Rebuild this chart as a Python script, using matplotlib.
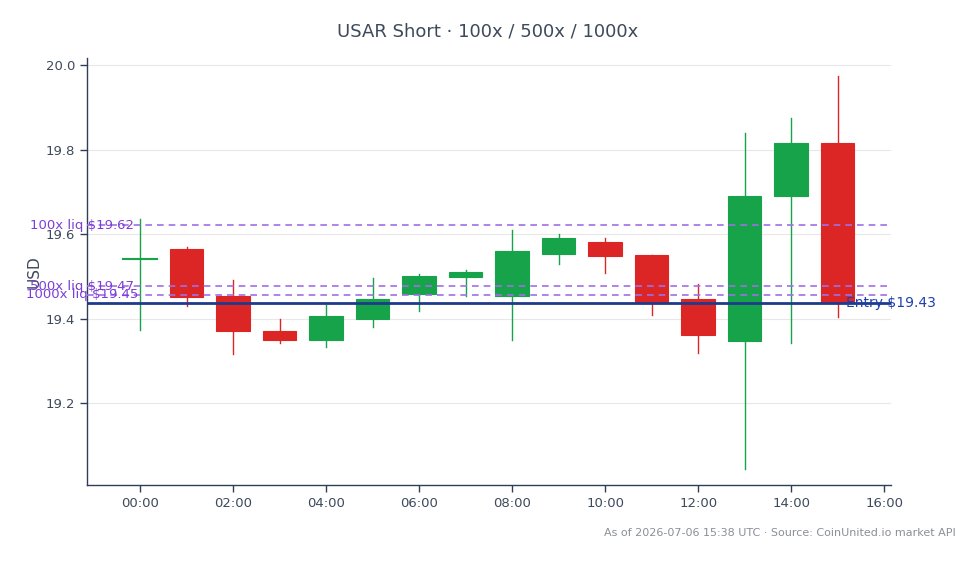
import matplotlib.pyplot as plt
from matplotlib.patches import Rectangle

# hourly candles, hours since 00:00
hours = list(range(16))
opens = [19.540, 19.564, 19.453, 19.370, 19.349, 19.399, 19.459, 19.499, 19.454, 19.554, 19.581, 19.550, 19.446, 19.346, 19.690, 19.815]
highs = [19.636, 19.569, 19.491, 19.399, 19.432, 19.496, 19.505, 19.515, 19.609, 19.600, 19.591, 19.550, 19.482, 19.839, 19.874, 19.975]
lows = [19.372, 19.430, 19.317, 19.343, 19.332, 19.381, 19.418, 19.454, 19.349, 19.530, 19.508, 19.408, 19.318, 19.044, 19.343, 19.403]
closes = [19.543, 19.451, 19.370, 19.349, 19.406, 19.446, 19.501, 19.510, 19.560, 19.591, 19.549, 19.437, 19.360, 19.690, 19.815, 19.439]

entry_price = 19.436
entry_label = "Entry $19.43"
liq_prices = [19.621, 19.476, 19.456]
liq_labels = ["100x liq $19.62", "500x liq $19.47", "1000x liq $19.45"]

xtick_hours = [0, 2, 4, 6, 8, 10, 12, 14, 16]
yticks = [19.2, 19.4, 19.6, 19.8, 20.0]

GREEN = "#16a34a"
RED = "#dc2626"
AXIS = "#2f3e55"
TEXT = "#3d4a5c"

fig = plt.figure(figsize=(9.8, 5.64), dpi=100)
ax = fig.add_axes([0.0888, 0.14, 0.8200, 0.757])

width = 0.72
for h, o, hi, lo, c in zip(hours, opens, highs, lows, closes):
    col = GREEN if c >= o else RED
    ax.plot([h, h], [lo, hi], color=col, lw=1, zorder=2)
    bottom = min(o, c)
    height = abs(c - o)
    if height < 0.004:
        ax.plot([h - width / 2, h + width / 2], [o, o], color=col, lw=1.5, zorder=3)
    else:
        ax.add_patch(Rectangle((h - width / 2, bottom), width, height, facecolor=col, edgecolor=col, lw=0.8, zorder=3))

# liquidation levels
for lbl, p in zip(liq_labels, liq_prices):
    ax.axhline(p, color="#9f6fe6", lw=1.2, ls=(0, (4, 3)), zorder=4)
    ax.text(-0.006, p, lbl, transform=ax.get_yaxis_transform(),
            ha="center", va="center", color="#7c3fd6", fontsize=9.5, zorder=5, clip_on=False)

# entry
ax.axhline(entry_price, color="#1e3a8a", lw=2, zorder=4)
ax.text(0.945, entry_price, entry_label, transform=ax.get_yaxis_transform(),
        ha="left", va="center", color="#1e40af", fontsize=10, zorder=5, clip_on=False)

ax.set_xlim(-1.139, 16.138)
ax.set_ylim(19.0055, 20.017)
ax.set_xticks(xtick_hours)
ax.set_xticklabels([f"{h:02d}:00" for h in xtick_hours])
ax.set_yticks(yticks)
ax.set_yticklabels([f"{v:.1f}" for v in yticks])
ax.grid(axis="y", color="#e6e8ec", lw=0.8, zorder=0)
ax.set_axisbelow(True)

for s in ["top", "right"]:
    ax.spines[s].set_visible(False)
for s in ["left", "bottom"]:
    ax.spines[s].set_color(AXIS)
    ax.spines[s].set_linewidth(1)
ax.tick_params(colors=AXIS, labelcolor=TEXT, labelsize=9.5, length=5, width=1)

ax.set_ylabel("USD", color=TEXT, fontsize=11, labelpad=3)
fig.text(0.498, 0.945, "USAR Short · 100x / 500x / 1000x", ha="center", va="center",
         fontsize=13, color=TEXT)
fig.text(0.975, 0.055, "As of 2026-07-06 15:38 UTC · Source: CoinUnited.io market API",
         ha="right", va="center", fontsize=8, color="#8a8f98")

fig.savefig("out.png", dpi=100)
